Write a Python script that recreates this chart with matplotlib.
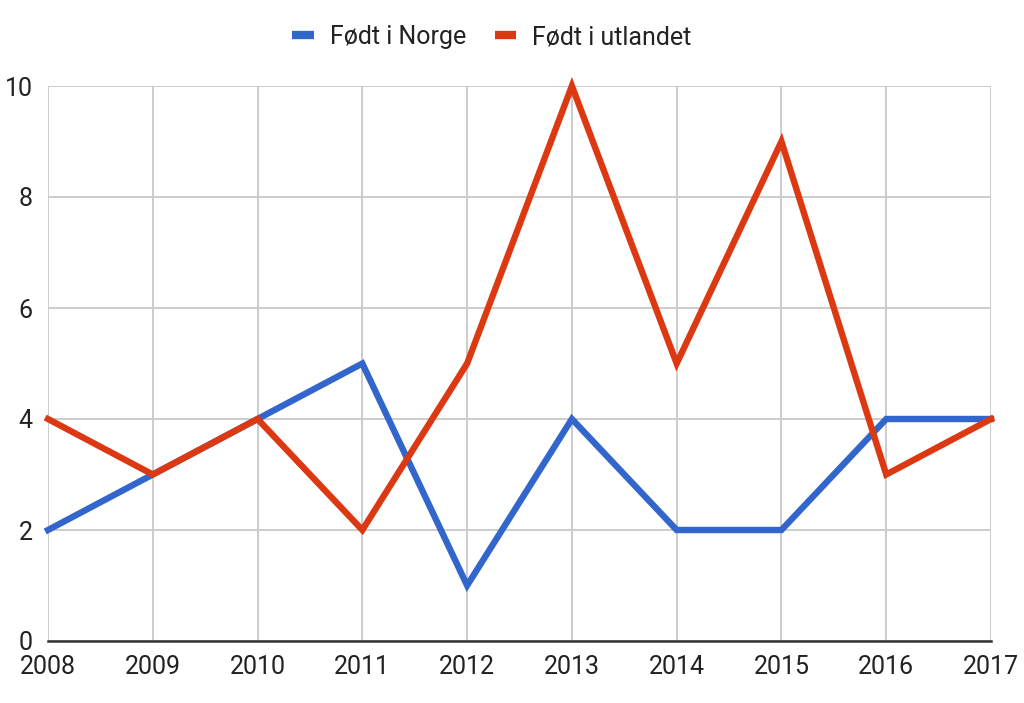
import matplotlib
matplotlib.use("Agg")
import matplotlib.pyplot as plt

years = [2008, 2009, 2010, 2011, 2012, 2013, 2014, 2015, 2016, 2017]
norge = [2, 3, 4, 5, 1, 4, 2, 2, 4, 4]
utlandet = [4, 3, 4, 2, 5, 10, 5, 9, 3, 4]
yticks = [0, 2, 4, 6, 8, 10]

plt.rcParams["font.family"] = ["Roboto", "DejaVu Sans"]

fig = plt.figure(figsize=(10.24, 7.03), dpi=100)
ax = fig.add_axes([48 / 1024, 1 - 641 / 703, (991 - 48) / 1024, (641 - 86) / 703])

ax.plot(years, norge, color="#3366cc", lw=4.6, label="Født i Norge",
        solid_joinstyle="miter", clip_on=False, zorder=3)
ax.plot(years, utlandet, color="#dc3912", lw=4.6, label="Født i utlandet",
        solid_joinstyle="miter", clip_on=False, zorder=3)

ax.set_xlim(years[0], years[-1])
ax.set_ylim(0, 10)
ax.set_xticks(years)
ax.set_yticks(yticks)
ax.grid(True, color="#cccccc", lw=1.4)
ax.set_axisbelow(True)

for side in ("top", "right", "left"):
    ax.spines[side].set_visible(False)
ax.spines["bottom"].set_color("#333333")
ax.spines["bottom"].set_linewidth(1.8)
ax.spines["bottom"].set_zorder(4)

ax.tick_params(axis="both", length=0, labelsize=18, labelcolor="#222222")
ax.tick_params(axis="x", pad=10)
ax.tick_params(axis="y", pad=11)

leg = fig.legend(loc="center", bbox_to_anchor=(492 / 1024, 1 - 37 / 703), ncol=2,
                 frameon=False, fontsize=18, handlelength=0.85, handletextpad=0.65,
                 columnspacing=1.15, labelcolor="#222222")
for h in leg.legend_handles:
    h.set_linewidth(6)
    h.set_solid_capstyle("butt")

fig.savefig("out.png", dpi=100, facecolor="white")
